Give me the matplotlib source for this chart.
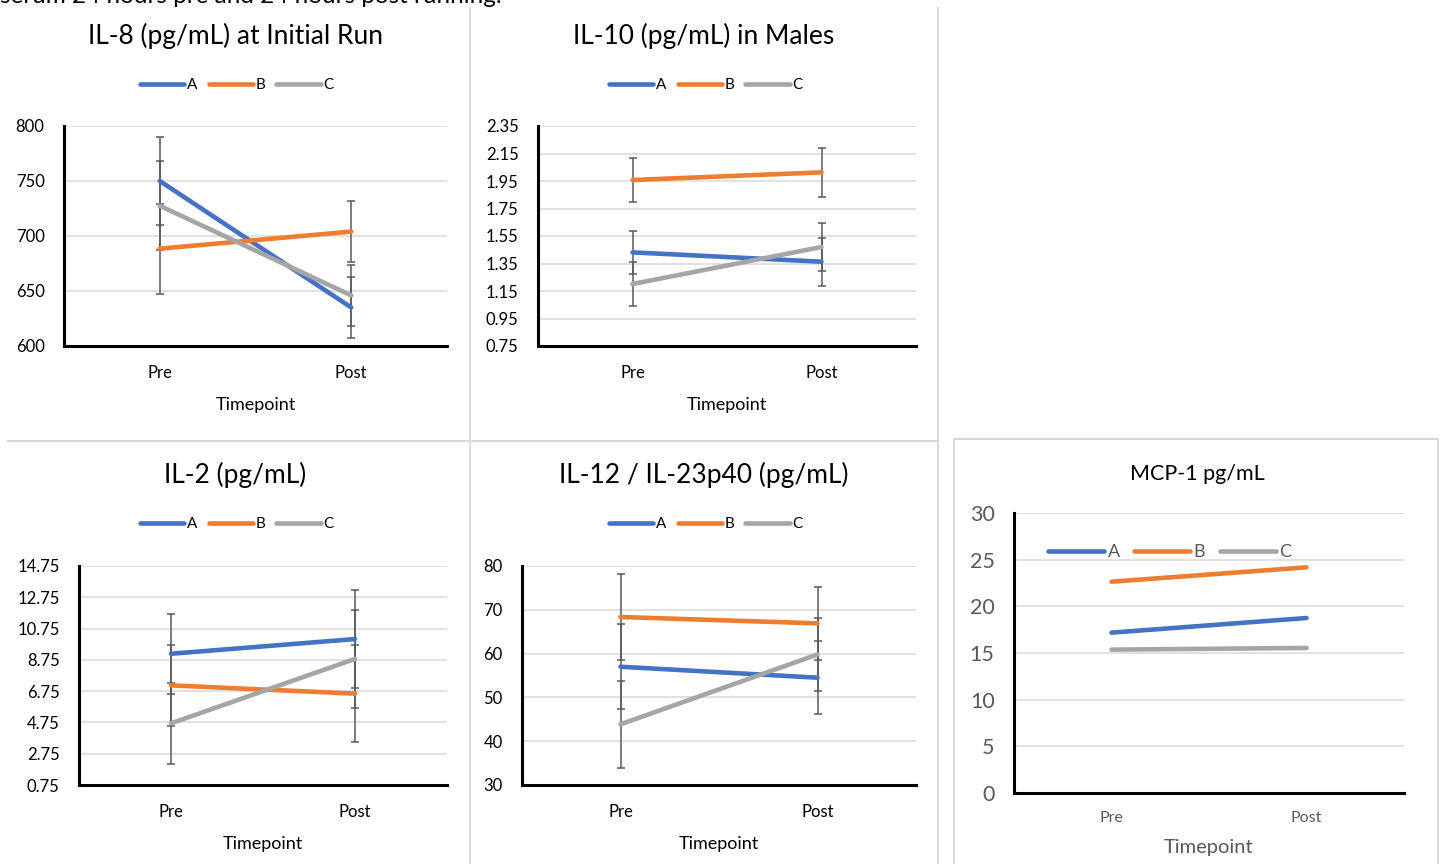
import matplotlib.pyplot as plt
from matplotlib.lines import Line2D
from matplotlib.patches import Rectangle

plt.rcParams['font.family'] = ['Lato', 'DejaVu Sans']

W, H = 1440, 864

timepoints = ['Pre', 'Post']
groups = ['A', 'B', 'C']
colors = ['#4472C4', '#ED7D31', '#A5A5A5']

# means per group (A, B, C) at Pre / Post, and the error bar half widths
il8_means = [[750, 635], [688.5, 704], [727.5, 646]]
il8_errs = [[40, 28], [41, 27.5], [40.5, 28]]
il8_ticks = [600, 650, 700, 750, 800]

il10_means = [[1.431, 1.363], [1.957, 2.013], [1.201, 1.47]]
il10_errs = [[0.158, 0.173], [0.16, 0.177], [0.158, 0.175]]
il10_ticks = [0.75, 0.95, 1.15, 1.35, 1.55, 1.75, 1.95, 2.15, 2.35]

il2_means = [[9.14, 10.08], [7.12, 6.59], [4.69, 8.81]]
il2_errs = [[2.57, 3.12], [2.57, 3.09], [2.6, 3.14]]
il2_ticks = [0.75, 2.75, 4.75, 6.75, 8.75, 10.75, 12.75, 14.75]

il12_means = [[57.0, 54.5], [68.36, 66.9], [43.86, 59.8]]
il12_errs = [[9.7, 8.3], [9.9, 8.4], [9.9, 8.4]]
il12_ticks = [30, 40, 50, 60, 70, 80]

mcp1_means = [[17.18, 18.75], [22.64, 24.18], [15.36, 15.54]]
mcp1_ticks = [0, 5, 10, 15, 20, 25, 30]


def px_axes(fig, left, top, right, bottom):
    return fig.add_axes([left / W, 1 - bottom / H, (right - left) / W, (bottom - top) / H])


def legend_at(fig, x, y, loc, fontsize=11, color='black', hlen=2.9, colsp=0.7):
    handles = [Line2D([], [], color=c, lw=3.3, solid_capstyle='round') for c in colors]
    leg = fig.legend(handles, groups, loc=loc, bbox_to_anchor=(x / W, 1 - y / H), ncol=3,
                     frameon=False, fontsize=fontsize, handlelength=hlen, handletextpad=0.2,
                     columnspacing=colsp, borderpad=0, borderaxespad=0)
    for t in leg.get_texts():
        t.set_color(color)
    return leg


def draw_panel(fig, box, means, errs, ticks, fmt, title, title_x, title_y, title_size=19,
               tick_size=12, tick_color='black', cat_color='black', cat_size=12,
               xlabel_size=13, xlabel_color='black', xpad=14, labelpad=11):
    ax = px_axes(fig, *box)
    x = [0, 1]
    for i in range(len(groups)):
        if errs is not None:
            ax.errorbar(x, means[i], yerr=errs[i], fmt='none', ecolor='#595959',
                        elinewidth=1.1, capsize=3.2, capthick=1.1, zorder=2)
        ax.plot(x, means[i], color=colors[i], lw=3.3, solid_capstyle='round', zorder=3)
    ax.set_xlim(-0.5, 1.5)
    ax.set_ylim(ticks[0], ticks[-1])
    ax.set_yticks(ticks)
    ax.set_yticklabels([fmt.format(t) for t in ticks], fontsize=tick_size, color=tick_color)
    ax.set_xticks(x)
    ax.set_xticklabels(timepoints, fontsize=cat_size, color=cat_color)
    ax.tick_params(length=0)
    ax.tick_params(axis='y', pad=14)
    ax.tick_params(axis='x', pad=xpad)
    ax.grid(axis='y', color='#D9D9D9', lw=1.1)
    ax.set_axisbelow(True)
    for s in ['top', 'right']:
        ax.spines[s].set_visible(False)
    for s in ['left', 'bottom']:
        ax.spines[s].set_linewidth(2.2)
        ax.spines[s].set_color('black')
    ax.set_xlabel('Timepoint', fontsize=xlabel_size, color=xlabel_color, labelpad=labelpad)
    fig.text(title_x / W, 1 - title_y / H, title, ha='center', va='center', fontsize=title_size)
    return ax


fig = plt.figure(figsize=(W / 100, H / 100), dpi=100)

# cut-off caption at the top of the screenshot
fig.text(0, 1 - 3 / H, 'serum 24 hours pre and 24 hours post running.', va='baseline', fontsize=17.5)

# chart frames
sep = dict(color='#D9D9D9', lw=1.5)
fig.add_artist(Line2D([470 / W, 470 / W], [0, 1 - 8 / H], **sep))
fig.add_artist(Line2D([938 / W, 938 / W], [0, 1 - 8 / H], **sep))
fig.add_artist(Line2D([8 / W, 938 / W], [1 - 441 / H, 1 - 441 / H], **sep))
fig.add_artist(Rectangle((954 / W, -0.01), 484 / W, 1 - 439 / H + 0.01, fill=False,
                         edgecolor='#D9D9D9', lw=1.5))

draw_panel(fig, (64, 126, 447, 346), il8_means, il8_errs, il8_ticks, '{:.0f}',
           'IL-8 (pg/mL) at Initial Run', 235, 36)
legend_at(fig, 237, 85, 'center')

draw_panel(fig, (538, 126, 916, 346), il10_means, il10_errs, il10_ticks, '{:.2f}',
           'IL-10 (pg/mL) in Males', 704, 36)
legend_at(fig, 706, 85, 'center')

draw_panel(fig, (79, 566, 447, 785), il2_means, il2_errs, il2_ticks, '{:.2f}',
           'IL-2 (pg/mL)', 235, 475)
legend_at(fig, 237, 524, 'center')

draw_panel(fig, (522, 566, 916, 785), il12_means, il12_errs, il12_ticks, '{:.0f}',
           'IL-12 / IL-23p40 (pg/mL)', 704, 475)
legend_at(fig, 706, 524, 'center')

draw_panel(fig, (1014, 513, 1404, 793), mcp1_means, None, mcp1_ticks, '{:.0f}',
           'MCP-1 pg/mL', 1197, 474, title_size=15.5, tick_size=15.5, tick_color='#595959',
           cat_color='#595959', cat_size=11.5, xlabel_size=14.5, xlabel_color='#595959',
           xpad=13, labelpad=10)
legend_at(fig, 1048, 552, 'center left', fontsize=13, color='#595959', hlen=3.1, colsp=0.8)

fig.savefig('out.png', dpi=100)
